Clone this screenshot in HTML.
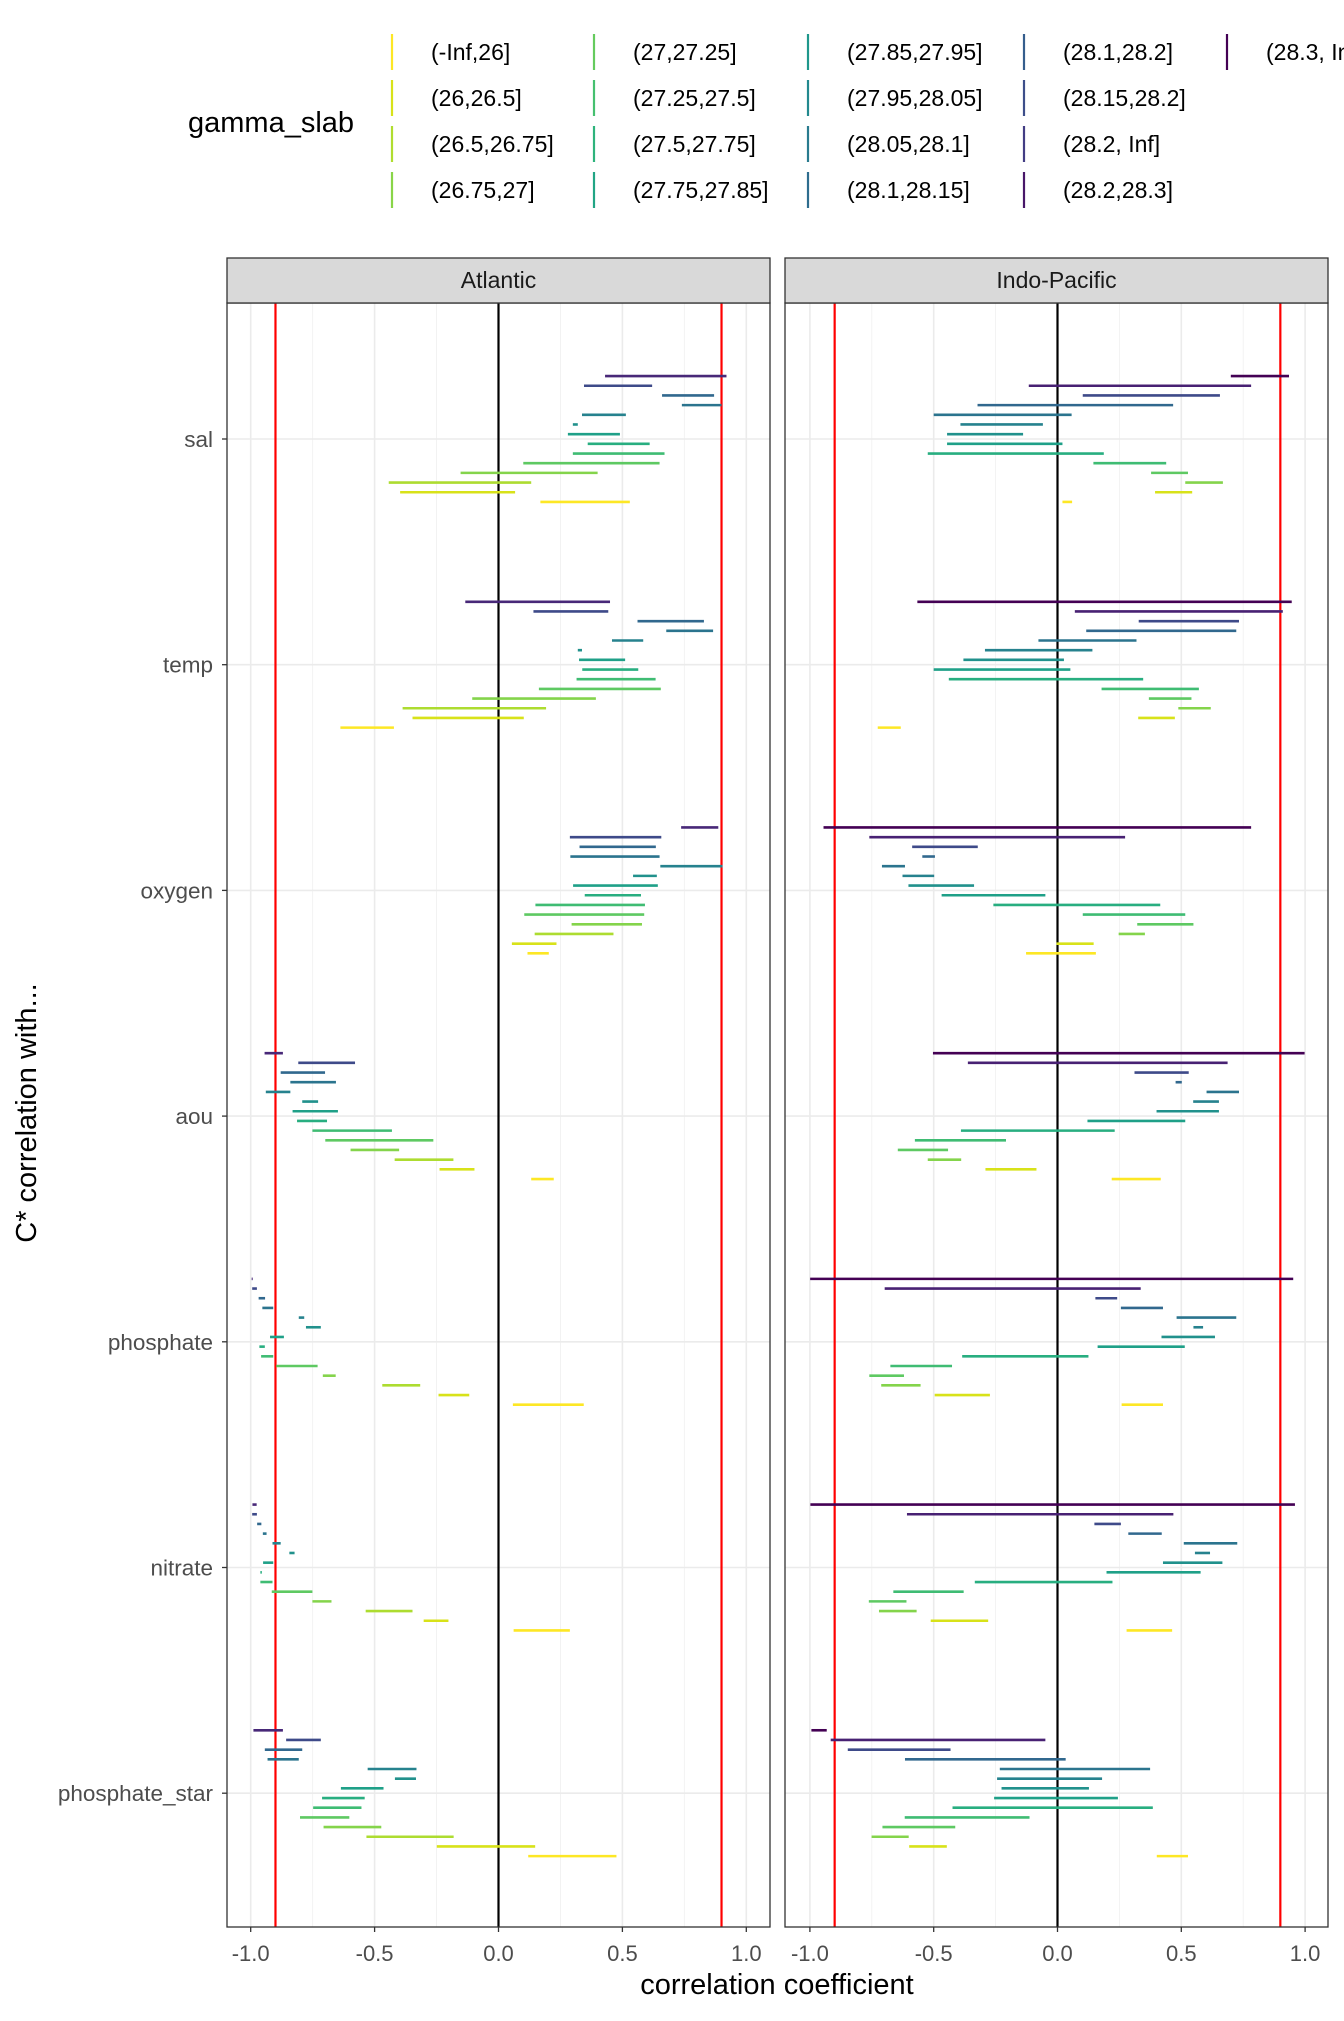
<!DOCTYPE html>
<html><head><meta charset="utf-8"><style>
html,body{margin:0;padding:0;background:#fff;}
svg text{font-family:"Liberation Sans",Arial,sans-serif;}
</style></head><body>
<svg id="chart" xmlns="http://www.w3.org/2000/svg" width="1344" height="2016" viewBox="0 0 1344 2016">
<rect width="1344" height="2016" fill="#fff"/>
<g id="legend"></g>
<g id="panels"></g>
<text x="777" y="1994" font-size="29" text-anchor="middle" fill="#000">correlation coefficient</text>
<text transform="translate(36,1113) rotate(-90)" font-size="29" text-anchor="middle" fill="#000">C* correlation with...</text>
</svg>
<script>
const variables = ["sal","temp","oxygen","aou","phosphate","nitrate","phosphate_star"];
const panelNames = ["Atlantic","Indo-Pacific"];
const xTicks = [-1,-0.5,0,0.5,1];
const xTickLabels = ["-1.0","-0.5","0.0","0.5","1.0"];
const thresholds = [-0.9,0.9];
const legendLabels = ["(-Inf,26]","(26,26.5]","(26.5,26.75]","(26.75,27]","(27,27.25]","(27.25,27.5]","(27.5,27.75]","(27.75,27.85]","(27.85,27.95]","(27.95,28.05]","(28.05,28.1]","(28.1,28.15]","(28.1,28.2]","(28.15,28.2]","(28.2, Inf]","(28.2,28.3]","(28.3, Inf]"];
const legendColors = ["#fde725","#d8e219","#b0dd2f","#89d548","#65cb5e","#46c06f","#2eb37c","#21a585","#1f978b","#23898e","#297b8e","#2e6d8e","#355e8d","#3d4e8a","#433d84","#481769","#440154"];
const atlColors = ["#482878","#3e4a89","#31688e","#2b748e","#26828e","#21918c","#1fa088","#28ae80","#3fbc73","#5ec962","#84d44b","#addc30","#d8e219","#fde725"];
const ipColors = ["#440154","#482173","#3e4a89","#31688e","#2b748e","#26828e","#21918c","#1fa088","#28ae80","#3fbc73","#5ec962","#84d44b","#d8e219","#fde725"];

const atlanticLo = [
 [0.43,0.345,0.66,0.74,0.337,0.30,0.28,0.36,0.30,0.10,-0.153,-0.443,-0.397,0.169],
 [-0.134,0.141,0.561,0.677,0.458,0.32,0.325,0.338,0.315,0.163,-0.106,-0.387,-0.347,-0.638],
 [0.737,0.288,0.327,0.29,0.653,0.543,0.301,0.348,0.149,0.104,0.295,0.146,0.054,0.117],
 [-0.944,-0.808,-0.879,-0.840,-0.939,-0.792,-0.831,-0.813,-0.751,-0.699,-0.597,-0.419,-0.238,0.132],
 [-0.996,-0.994,-0.968,-0.953,-0.806,-0.777,-0.922,-0.965,-0.958,-0.897,-0.709,-0.469,-0.242,0.058],
 [-0.993,-0.994,-0.974,-0.951,-0.912,-0.844,-0.95,-0.961,-0.961,-0.915,-0.751,-0.536,-0.302,0.061],
 [-0.989,-0.857,-0.943,-0.932,-0.528,-0.418,-0.636,-0.712,-0.748,-0.801,-0.706,-0.533,-0.249,0.12]
];
const atlanticHi = [
 [0.92,0.62,0.87,0.90,0.514,0.32,0.49,0.61,0.67,0.65,0.40,0.132,0.067,0.53],
 [0.45,0.443,0.829,0.866,0.584,0.337,0.511,0.564,0.634,0.655,0.393,0.192,0.102,-0.422],
 [0.887,0.657,0.635,0.65,0.904,0.639,0.643,0.575,0.591,0.588,0.579,0.464,0.234,0.203],
 [-0.870,-0.579,-0.70,-0.656,-0.840,-0.728,-0.648,-0.692,-0.43,-0.263,-0.401,-0.182,-0.097,0.223],
 [-0.992,-0.975,-0.942,-0.909,-0.784,-0.717,-0.866,-0.943,-0.909,-0.73,-0.657,-0.316,-0.118,0.344],
 [-0.976,-0.975,-0.957,-0.936,-0.879,-0.823,-0.909,-0.955,-0.912,-0.751,-0.674,-0.347,-0.202,0.288],
 [-0.870,-0.717,-0.792,-0.806,-0.331,-0.333,-0.464,-0.54,-0.553,-0.602,-0.473,-0.181,0.148,0.476]
];
const indoPacificLo = [
 [0.70,-0.116,0.102,-0.323,-0.50,-0.392,-0.446,-0.446,-0.524,0.145,0.378,0.516,0.394,0.02],
 [-0.566,0.07,0.328,0.116,-0.077,-0.293,-0.38,-0.50,-0.439,0.178,0.369,0.488,0.326,-0.726],
 [-0.945,-0.76,-0.587,-0.546,-0.709,-0.626,-0.602,-0.468,-0.259,0.102,0.322,0.247,-0.004,-0.127],
 [-0.503,-0.362,0.311,0.477,0.602,0.548,0.40,0.121,-0.39,-0.576,-0.645,-0.524,-0.291,0.219],
 [-0.999,-0.698,0.153,0.256,0.481,0.549,0.42,0.162,-0.385,-0.675,-0.76,-0.712,-0.496,0.259],
 [-0.998,-0.608,0.149,0.286,0.51,0.555,0.426,0.198,-0.334,-0.663,-0.762,-0.721,-0.512,0.279],
 [-0.994,-0.916,-0.847,-0.616,-0.233,-0.244,-0.226,-0.256,-0.424,-0.617,-0.707,-0.751,-0.599,0.401]
];
const indoPacificHi = [
 [0.935,0.782,0.656,0.467,0.057,-0.059,-0.139,0.02,0.187,0.439,0.527,0.668,0.544,0.059],
 [0.946,0.91,0.733,0.722,0.319,0.141,0.026,0.052,0.346,0.571,0.541,0.619,0.474,-0.633],
 [0.782,0.273,-0.322,-0.495,-0.616,-0.498,-0.337,-0.049,0.415,0.516,0.549,0.353,0.146,0.155],
 [0.998,0.687,0.53,0.502,0.733,0.652,0.652,0.516,0.231,-0.208,-0.442,-0.389,-0.085,0.417],
 [0.952,0.336,0.241,0.426,0.722,0.588,0.636,0.514,0.125,-0.426,-0.62,-0.553,-0.273,0.426],
 [0.959,0.468,0.256,0.421,0.726,0.616,0.666,0.578,0.222,-0.379,-0.61,-0.569,-0.28,0.463],
 [-0.932,-0.049,-0.432,0.033,0.374,0.18,0.127,0.244,0.385,-0.113,-0.413,-0.601,-0.447,0.527]
];

const NS="http://www.w3.org/2000/svg";
function mk(tag, attrs, parent){const e=document.createElementNS(NS,tag);for(const k in attrs)e.setAttribute(k,attrs[k]);parent.appendChild(e);return e;}

const panelTop=303, panelBottom=1927;
const panelDefs=[{left:227,right:770,center:498.5,unit:247.8,lo:atlanticLo,hi:atlanticHi,colors:atlColors},
                 {left:785,right:1328,center:1057.5,unit:247.6,lo:indoPacificLo,hi:indoPacificHi,colors:ipColors}];
function yCenter(i){return 439+225.7*i;}
function yRow(i,k,n){return yCenter(i)+(k-(n-1)/2)*9.68;}

const panels=document.getElementById('panels');
panelDefs.forEach((p,pi)=>{
  const xs=v=>p.center+v*p.unit;
  const g=mk('g',{},panels);
  
  
  mk('rect',{x:p.left,y:panelTop,width:p.right-p.left,height:panelBottom-panelTop,fill:'#fff'},g);
  [-0.75,-0.25,0.25,0.75].forEach(v=>{
    const l=mk('line',{x1:xs(v),x2:xs(v),y1:panelTop,y2:panelBottom,stroke:'#f0f0f0','stroke-width':0.8},g);
    
    
  });
  xTicks.forEach(v=>{
    const l=mk('line',{x1:xs(v),x2:xs(v),y1:panelTop,y2:panelBottom,stroke:'#ebebeb','stroke-width':1.6},g);
    
    
  });
  variables.forEach((vn,i)=>{
    const l=mk('line',{x1:p.left,x2:p.right,y1:yCenter(i),y2:yCenter(i),stroke:'#ebebeb','stroke-width':1.6},g);
    
    
  });
  thresholds.forEach(v=>{
    const l=mk('line',{x1:xs(v),x2:xs(v),y1:panelTop,y2:panelBottom,stroke:'#ff0000','stroke-width':2.2},g);
    
    
  });
  const z=mk('line',{x1:xs(0),x2:xs(0),y1:panelTop,y2:panelBottom,stroke:'#000','stroke-width':2.2},g);
  
  
  variables.forEach((vn,i)=>{
    const lo=p.lo[i], hi=p.hi[i], n=lo.length;
    for(let k=0;k<n;k++){
      const y=yRow(i,k,n);
      const s=mk('line',{x1:xs(lo[k]),x2:xs(hi[k]),y1:y,y2:y,stroke:p.colors[k],'stroke-width':2.6},g);
      
      
    }
  });
  const b=mk('rect',{x:p.left,y:panelTop,width:p.right-p.left,height:panelBottom-panelTop,fill:'none',stroke:'#333','stroke-width':1.3},g);
  
  
  const st=mk('rect',{x:p.left,y:258,width:p.right-p.left,height:45,fill:'#d9d9d9',stroke:'#333','stroke-width':1.3},g);
  
  
  const tt=mk('text',{x:(p.left+p.right)/2,y:288,'font-size':23,'text-anchor':'middle',fill:'#1a1a1a'},g);
  tt.textContent=panelNames[pi];
  
  
  xTicks.forEach((v,ti)=>{
    const tk=mk('line',{x1:xs(v),x2:xs(v),y1:panelBottom,y2:panelBottom+5,stroke:'#333','stroke-width':1.3},g);
    
    
    const tl=mk('text',{x:xs(v),y:1961,'font-size':22,'text-anchor':'middle',fill:'#4d4d4d'},g);
    tl.textContent=xTickLabels[ti];
    
    
  });
});
variables.forEach((vn,i)=>{
  const tk=mk('line',{x1:222,x2:227,y1:yCenter(i),y2:yCenter(i),stroke:'#333','stroke-width':1.3},panels);
  
  
  const tl=mk('text',{x:213,y:yCenter(i)+8,'font-size':22.5,'text-anchor':'end',fill:'#4d4d4d'},panels);
  tl.textContent=vn;
  
  
});

const legend=document.getElementById('legend');
const lt=mk('text',{x:188,y:132,'font-size':29,fill:'#000'},legend);
lt.textContent='gamma_slab';


const colX=[392,594,808,1024,1227];
legendLabels.forEach((lab,j)=>{
  const c=Math.floor(j/4), r=j%4, y=52+46*r;
  const e=mk('g',{},legend);
  
  
  mk('line',{x1:colX[c],x2:colX[c],y1:y-18,y2:y+18,stroke:legendColors[j],'stroke-width':2.2},e);
  const t=mk('text',{x:colX[c]+39,y:y+8,'font-size':23,fill:'#000'},e);
  t.textContent=lab;
});
</script>
</body></html>
